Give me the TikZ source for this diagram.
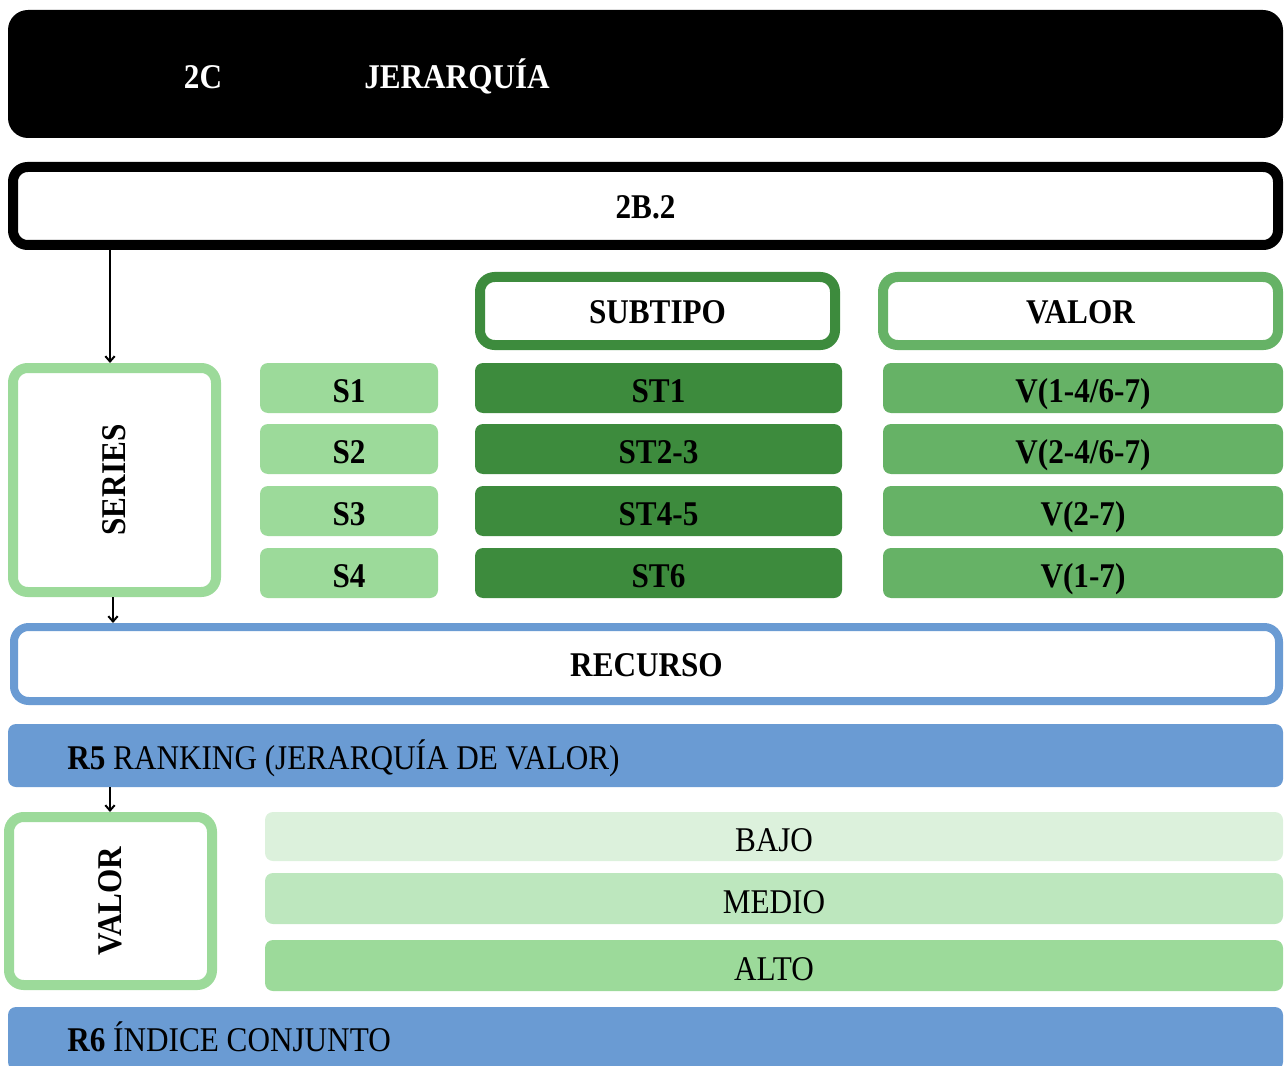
\documentclass[tikz,border=0pt]{standalone}
\usepackage{fontspec}
\setmainfont{Liberation Serif}[FakeStretch=0.9]
\usetikzlibrary{positioning, arrows.meta}
\definecolor{verdeosc}{HTML}{3D8B3D}
\definecolor{verdemed}{HTML}{66B266}
\definecolor{verdecla}{HTML}{9CDA9A}
\definecolor{verdebajo}{HTML}{DCF1DC}
\definecolor{verdemedio}{HTML}{BDE7BE}
\definecolor{azul}{HTML}{6A9BD3}

\begin{document}
\begin{tikzpicture}[x=0.75pt,y=-0.75pt,
  caja/.style={rounded corners=6pt, inner sep=0pt, text height=17.2pt, text depth=0pt,
    font=\fontsize{26}{30}\selectfont\bfseries},
  marco/.style={caja, draw, fill=white, line width=7.5pt, rounded corners=11pt},
  fila/.style={caja, minimum height=37.5pt, text height=22pt},
  texto/.style={inner sep=0pt, text height=17.2pt, text depth=0pt,
    font=\fontsize{26}{30}\selectfont},
  flecha/.style={-{Straight Barb[length=4pt,width=7pt]}, line width=1.5pt}]
\useasboundingbox (0,0) rectangle (1285,1066);

% Cabecera
\node[caja, fill=black, minimum width=956.25pt, minimum height=96pt, rounded corners=15pt] (jer) at (645.5,74) {};
\node[texto, font=\fontsize{26}{30}\selectfont\bfseries, text=white] (jer2c) at (203,77) {2C};
\node[texto, font=\fontsize{26}{30}\selectfont\bfseries, text=white] (jertit) at (457,77) {JERARQUÍA};
\node[marco, draw=black, minimum width=948.75pt, minimum height=58.5pt, text height=18.5pt] (b22) at (645.5,206) {2B.2};

% Encabezados de columna
\node[marco, draw=verdeosc, minimum width=266.25pt, minimum height=51pt, text height=18.5pt] (subtipo) at (657.5,311) {SUBTIPO};
\node[marco, draw=verdemed, minimum width=296.25pt, minimum height=51pt, text height=18.5pt] (valorcab) at (1080.5,311) {VALOR};

% Series
\node[marco, draw=verdecla, minimum width=152.25pt, minimum height=168pt] (series) at (114.5,480) {};
\node[caja, rotate=90] (seriest) at (series.center) {SERIES};
\foreach \i/\y/\s/\t/\v in {1/388/S1/ST1/{V(1-4/6-7)},2/449/S2/ST2-3/{V(2-4/6-7)},
                            3/511/S3/ST4-5/{V(2-7)},4/573/S4/ST6/{V(1-7)}} {
  \node[fila, fill=verdecla, minimum width=133.5pt] (S\i) at (349,\y) {\s};
  \node[fila, fill=verdeosc, minimum width=275.25pt] (ST\i) at (658.5,\y) {\t};
  \node[fila, fill=verdemed, minimum width=300pt] (V\i) at (1083,\y) {\v};
}

% Recurso
\node[marco, draw=azul, line width=6pt, minimum width=948.75pt, minimum height=55.5pt, text height=18.5pt] (recurso) at (646.5,664) {RECURSO};
\node[caja, fill=azul, minimum width=956.25pt, minimum height=47.25pt] (r5) at (645.5,755.5) {};
\node[texto, anchor=west] (r5t) at (67,758) {\textbf{R5} RANKING (JERARQUÍA DE VALOR)};

% Valor
\node[marco, draw=verdecla, minimum width=152.25pt, minimum height=126pt] (valor) at (110.5,901) {};
\node[caja, rotate=90] (valort) at (valor.center) {VALOR};
\foreach \n/\y/\h/\c/\t in {bajo/836.5/36.75/verdebajo/BAJO,medio/898.5/38.25/verdemedio/MEDIO,
                            alto/965.5/38.25/verdecla/ALTO} {
  \node[fila, fill=\c, minimum width=763.5pt, minimum height=\h pt, font=\fontsize{26}{30}\selectfont] (\n) at (774,\y) {\t};
}
\node[caja, fill=azul, minimum width=956.25pt, minimum height=47.25pt] (r6) at (645.5,1038.5) {};
\node[texto, anchor=west] (r6t) at (67,1040) {\textbf{R6} ÍNDICE CONJUNTO};

% Flechas
\draw[flecha] (b22.south -| 110,0) -- (series.north -| 110,0);
\draw[flecha] (series.south -| 113,0) -- (recurso.north -| 113,0);
\draw[flecha] (r5.south -| 110,0) -- (valor.north -| 110,0);
\end{tikzpicture}
\end{document}
